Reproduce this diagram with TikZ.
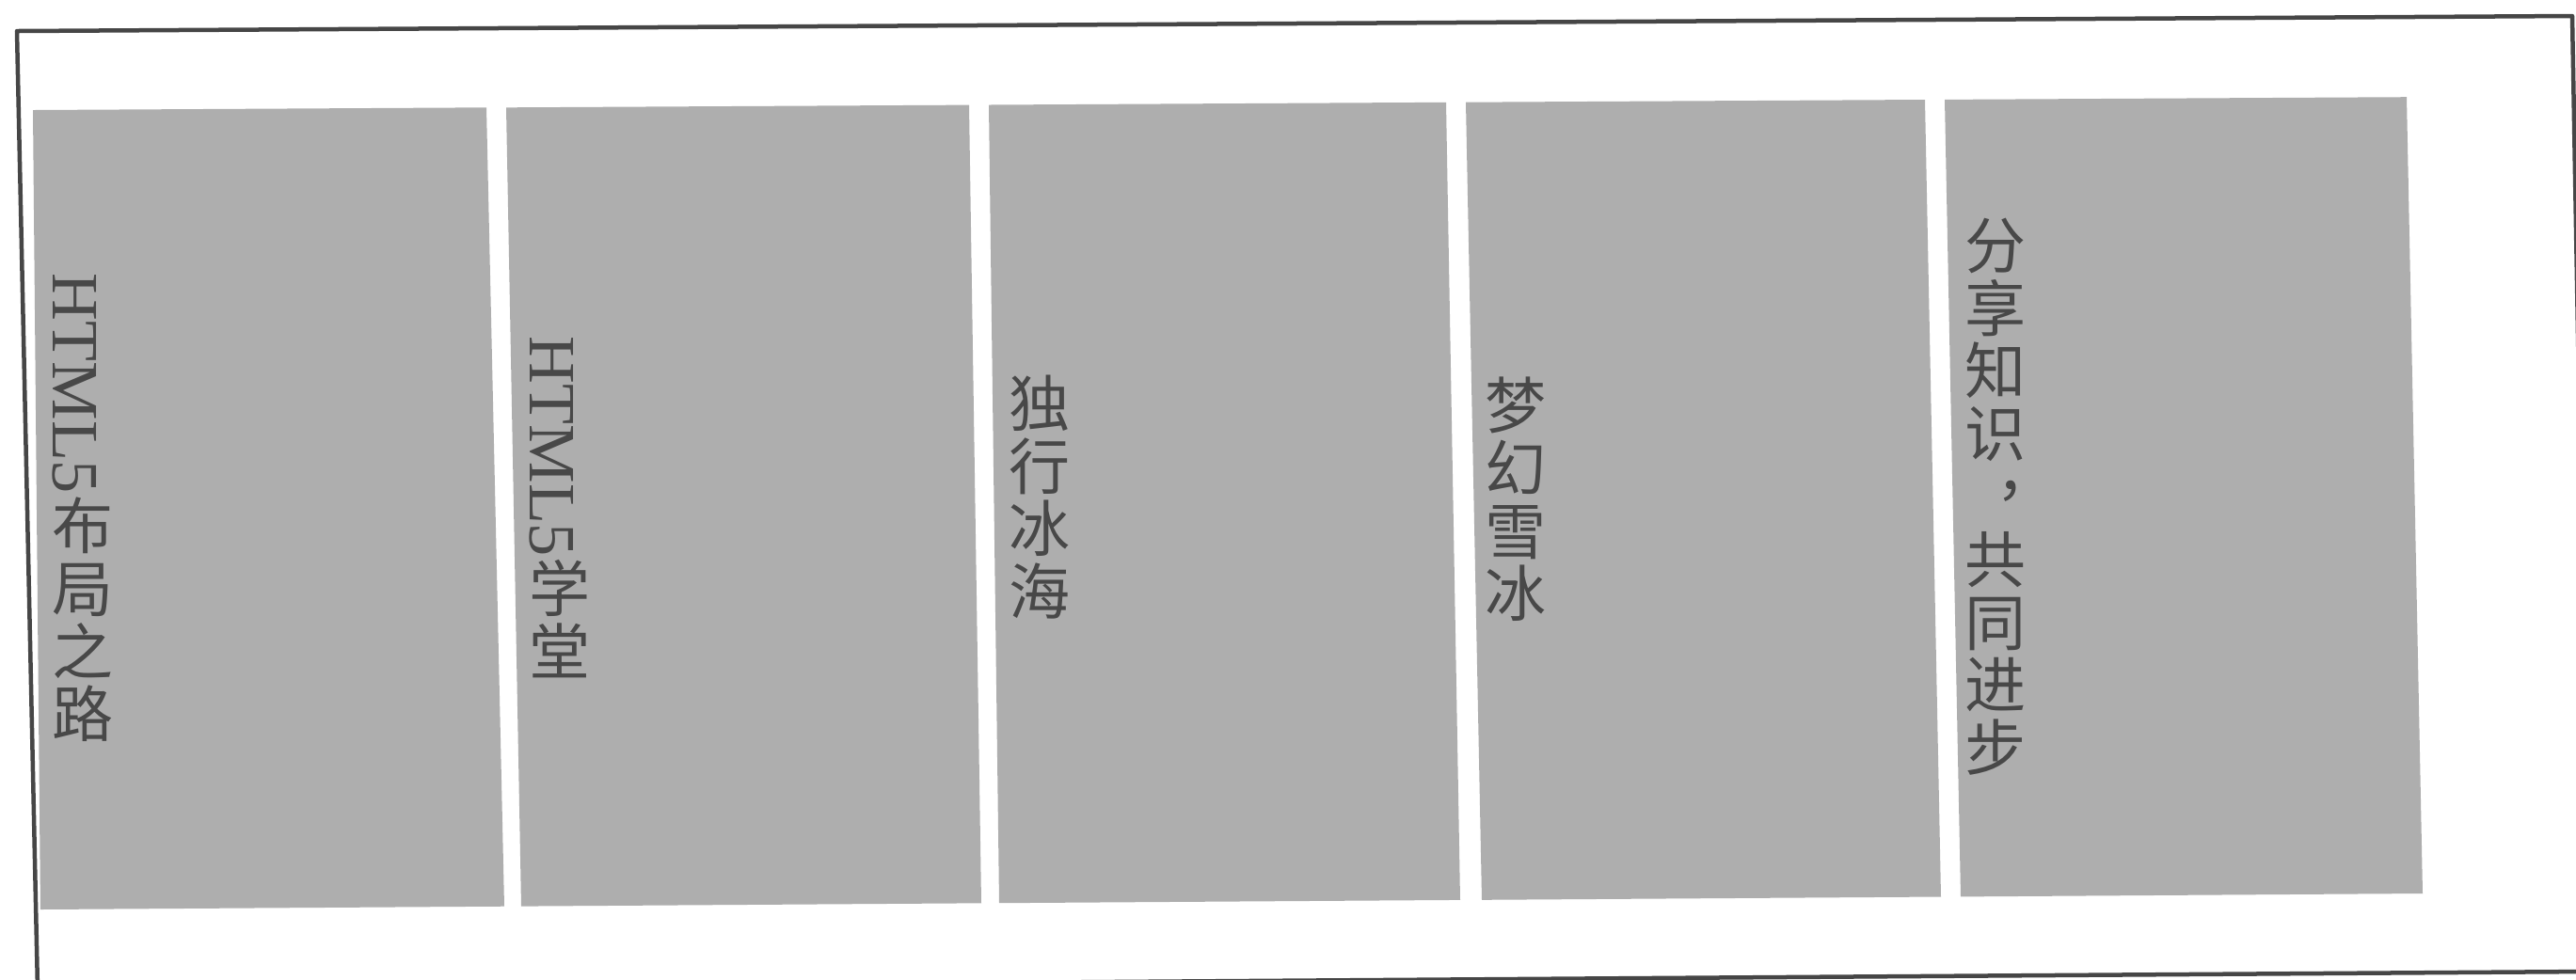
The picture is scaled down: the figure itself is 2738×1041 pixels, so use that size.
\documentclass[tikz,border=0pt]{standalone}
\usepackage{fontspec}
\setmainfont{Liberation Serif}
\newfontfamily\cjk{Noto Sans CJK SC}
\usepackage{graphicx}
\definecolor{colgray}{RGB}{174,174,174}
\definecolor{framegray}{RGB}{70,70,70}
\definecolor{txtgray}{RGB}{72,72,72}
\begin{document}
\begin{tikzpicture}[x=0.01cm,y=-0.01cm,
  colbox/.style={fill=colgray,draw=none},
  frameline/.style={draw=framegray,line width=0.045cm,line join=round},
  vlabel/.style={anchor=north west,inner sep=0pt,align=left,text=txtgray,
    font=\fontsize{18.5}{19}\selectfont}]
\useasboundingbox (0,0) rectangle (2738,1041);
\clip (0,0) rectangle (2738,1041);
\fill[white] (0,0) rectangle (2738,1041);
% outer frame (slightly skewed, as scanned)
\coordinate (fTL) at (18,33);
\coordinate (fTR) at (2734,17);
\coordinate (fBR) at (2752,1033);
\coordinate (fBL) at (40,1052);
\draw[frameline] (fTL) -- (fTR) -- (fBR) -- (fBL) -- cycle;
% columns
\fill[colbox] (35,117) -- (517,114.3) -- (536,963.7) -- (43,967) -- cycle;
\fill[colbox] (538,114.3) -- (1030,111.6) -- (1043,960.3) -- (554,963.6) -- cycle;
\fill[colbox] (1051,111.5) -- (1537,108.8) -- (1552,956.9) -- (1062,960.2) -- cycle;
\fill[colbox] (1558,108.7) -- (2046,106) -- (2063,953.5) -- (1575,956.8) -- cycle;
\fill[colbox] (2067,105.9) -- (2558,103.2) -- (2575,950) -- (2084,953.4) -- cycle;
% labels
\node[vlabel] (t1) at (55,290) {\rotatebox{-90}{\fontsize{20}{20}\selectfont HTML5}\\{\cjk 布}\\{\cjk 局}\\{\cjk 之}\\{\cjk 路}};
\node[vlabel] (t2) at (562,357) {\rotatebox{-90}{\fontsize{20}{20}\selectfont HTML5}\\{\cjk 学}\\{\cjk 堂}};
\node[vlabel] (t3) at (1072,398) {{\cjk 独}\\{\cjk 行}\\{\cjk 冰}\\{\cjk 海}};
\node[vlabel] (t4) at (1578,400) {{\cjk 梦}\\{\cjk 幻}\\{\cjk 雪}\\{\cjk 冰}};
\node[vlabel] (t5) at (2088,231) {{\cjk 分}\\{\cjk 享}\\{\cjk 知}\\{\cjk 识}\\{\cjk\makebox[1em][l]{\hspace*{0.5em}\raisebox{0.4em}{，}}\vphantom{分}}\\{\cjk 共}\\{\cjk 同}\\{\cjk 进}\\{\cjk 步}};
\end{tikzpicture}
\end{document}
